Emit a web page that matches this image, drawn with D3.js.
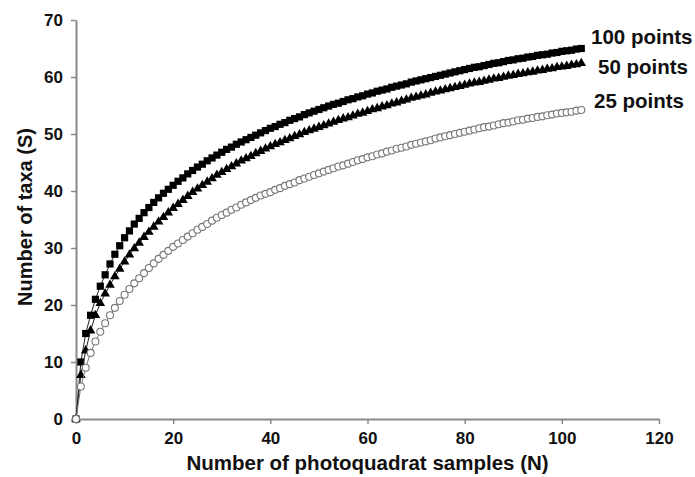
<!DOCTYPE html>
<html>
<head>
<meta charset="utf-8">
<script src="https://cdn.jsdelivr.net/npm/d3@7"></script>
<style>
  html, body { margin: 0; padding: 0; background: #fff; }
  svg { display: block; }
  text { font-family: "Liberation Sans", Arial, Helvetica, sans-serif; font-weight: bold; fill: #111; }
</style>
</head>
<body>
<svg id="chart" width="695" height="477"></svg>
<script>
// Sample counts (photoquadrats) 0..104
const samples = d3.range(0, 105);

// Cumulative number of taxa for each point-count intensity
const taxa100 = [
  0, 10, 15, 18.2, 21, 23.3, 25.3, 27.2, 28.9, 30.4,
  31.8, 33.0, 34.2, 35.2, 36.2, 37.1, 38.0, 38.8, 39.6, 40.3,
  41.0, 41.7, 42.3, 43.0, 43.6, 44.2, 44.7, 45.3, 45.8, 46.3,
  46.8, 47.3, 47.7, 48.2, 48.6, 49.0, 49.4, 49.8, 50.2, 50.6,
  51.0, 51.3, 51.7, 52.0, 52.4, 52.7, 53.0, 53.4, 53.7, 54.0,
  54.3, 54.6, 54.9, 55.2, 55.4, 55.7, 56.0, 56.2, 56.5, 56.7,
  57.0, 57.2, 57.5, 57.7, 57.9, 58.2, 58.4, 58.6, 58.8, 59.1,
  59.3, 59.5, 59.7, 59.9, 60.1, 60.3, 60.5, 60.7, 60.9, 61.1,
  61.3, 61.5, 61.7, 61.8, 62.0, 62.2, 62.4, 62.5, 62.7, 62.9,
  63.0, 63.2, 63.3, 63.5, 63.6, 63.8, 63.9, 64.0, 64.2, 64.3,
  64.5, 64.6, 64.7, 64.9, 65.0
];
const taxa50 = [
  0, 7.7, 12.0, 15.5, 18.2, 20.3, 22.0, 23.5, 25.0, 26.3,
  27.6, 28.8, 29.9, 30.9, 31.9, 32.8, 33.7, 34.6, 35.4, 36.2,
  37.0, 37.7, 38.4, 39.1, 39.8, 40.4, 41.0, 41.6, 42.2, 42.8,
  43.3, 43.8, 44.3, 44.8, 45.3, 45.7, 46.1, 46.6, 47.0, 47.4,
  47.8, 48.2, 48.5, 48.9, 49.2, 49.6, 49.9, 50.3, 50.6, 50.9,
  51.2, 51.5, 51.8, 52.1, 52.4, 52.7, 52.9, 53.2, 53.5, 53.7,
  54.0, 54.3, 54.5, 54.8, 55.0, 55.3, 55.5, 55.8, 56.0, 56.3,
  56.5, 56.7, 56.9, 57.2, 57.4, 57.6, 57.8, 58.0, 58.2, 58.4,
  58.6, 58.8, 59.0, 59.1, 59.3, 59.5, 59.7, 59.8, 60.0, 60.2,
  60.3, 60.5, 60.6, 60.8, 60.9, 61.1, 61.2, 61.4, 61.5, 61.7,
  61.8, 61.9, 62.1, 62.2, 62.4
];
const taxa25 = [
  0, 5.7, 9.0, 11.6, 13.6, 15.3, 16.8, 18.2, 19.5, 20.7,
  21.8, 22.8, 23.8, 24.7, 25.6, 26.5, 27.3, 28.1, 28.8, 29.5,
  30.2, 30.8, 31.4, 32.0, 32.6, 33.2, 33.7, 34.2, 34.8, 35.3,
  35.8, 36.2, 36.7, 37.1, 37.6, 38.0, 38.4, 38.8, 39.2, 39.5,
  39.8, 40.2, 40.5, 40.9, 41.2, 41.5, 41.9, 42.2, 42.5, 42.8,
  43.1, 43.4, 43.7, 44.0, 44.3, 44.5, 44.8, 45.1, 45.4, 45.6,
  45.9, 46.1, 46.4, 46.6, 46.9, 47.1, 47.4, 47.6, 47.8, 48.1,
  48.3, 48.5, 48.7, 48.9, 49.2, 49.4, 49.6, 49.8, 50.0, 50.2,
  50.4, 50.6, 50.8, 51.0, 51.2, 51.3, 51.5, 51.7, 51.9, 52.0,
  52.2, 52.4, 52.5, 52.7, 52.8, 53.0, 53.1, 53.3, 53.4, 53.6,
  53.7, 53.8, 53.9, 54.1, 54.2
];

const seriesNames = ["100 points", "50 points", "25 points"];
const xTicks = [0, 20, 40, 60, 80, 100, 120];
const yTicks = [0, 10, 20, 30, 40, 50, 60, 70];
const xTitle = "Number of photoquadrat samples (N)";
const yTitle = "Number of taxa (S)";

const svg = d3.select("#chart");
const margin = { left: 76, right: 36, top: 20, bottom: 58 };
const W = 695, H = 477;

const x = d3.scaleLinear().domain([0, 120]).range([margin.left, W - margin.right]);
const y = d3.scaleLinear().domain([0, 70]).range([H - margin.bottom, margin.top]);

const axisColor = "#8a8a8a";

// x axis
const gx = svg.append("g")
  .attr("transform", `translate(0,${y(0)})`)
  .call(d3.axisBottom(x).tickValues(xTicks).tickSize(5).tickSizeOuter(0).tickPadding(8));
// y axis
const gy = svg.append("g")
  .attr("transform", `translate(${x(0)},0)`)
  .call(d3.axisLeft(y).tickValues(yTicks).tickSize(5).tickSizeOuter(0).tickPadding(8));

[gx, gy].forEach(g => {
  g.select(".domain").attr("stroke", axisColor).attr("stroke-width", 2);
  g.selectAll(".tick line").attr("stroke", axisColor).attr("stroke-width", 1.5);
  g.selectAll(".tick text")
    .attr("fill", "#111")
    .style("font-family", '"Liberation Sans", Arial, sans-serif')
    .style("font-weight", "bold")
    .style("font-size", "17px");
});

// axis titles
svg.append("text")
  .attr("x", x(60)).attr("y", 470)
  .attr("text-anchor", "middle")
  .style("font-size", "20.5px")
  .text(xTitle);
svg.append("text")
  .attr("transform", `translate(32,217) rotate(-90)`)
  .attr("text-anchor", "middle")
  .style("font-size", "20px")
  .text(yTitle);

const plot = svg.append("g");
const series = [
  { name: seriesNames[0], values: taxa100, shape: "square" },
  { name: seriesNames[1], values: taxa50, shape: "triangle" },
  { name: seriesNames[2], values: taxa25, shape: "circle" }
];

const line = d3.line().x(d => x(d[0])).y(d => y(d[1]));

series.forEach(s => {
  const pts = samples.map((n, i) => [n, s.values[i]]);
  plot.append("path")
    .datum(pts)
    .attr("fill", "none")
    .attr("stroke", s.shape === "circle" ? "#777" : "#222")
    .attr("stroke-width", 1)
    .attr("d", line);

  const g = plot.append("g");
  if (s.shape === "square") {
    g.selectAll("rect").data(pts).join("rect")
      .attr("x", d => x(d[0]) - 3.6).attr("y", d => y(d[1]) - 3.6)
      .attr("width", 7.2).attr("height", 7.2)
      .attr("fill", "#000");
  } else if (s.shape === "triangle") {
    const tri = d3.symbol().type(d3.symbolTriangle).size(40);
    g.selectAll("path").data(pts).join("path")
      .attr("transform", d => `translate(${x(d[0])},${y(d[1])})`)
      .attr("d", tri())
      .attr("fill", "#000");
  } else {
    g.selectAll("circle").data(pts).join("circle")
      .attr("cx", d => x(d[0])).attr("cy", d => y(d[1]))
      .attr("r", 3.5)
      .attr("fill", "#fff")
      .attr("stroke", "#777")
      .attr("stroke-width", 1.1);
  }
});

// series labels at curve ends
const labelPos = [
  { x: 591, y: 44 },
  { x: 598, y: 74 },
  { x: 594, y: 108 }
];
series.forEach((s, i) => {
  svg.append("text")
    .attr("x", labelPos[i].x).attr("y", labelPos[i].y)
    .style("font-size", "20.5px")
    .text(s.name);
});
</script>
</body>
</html>
